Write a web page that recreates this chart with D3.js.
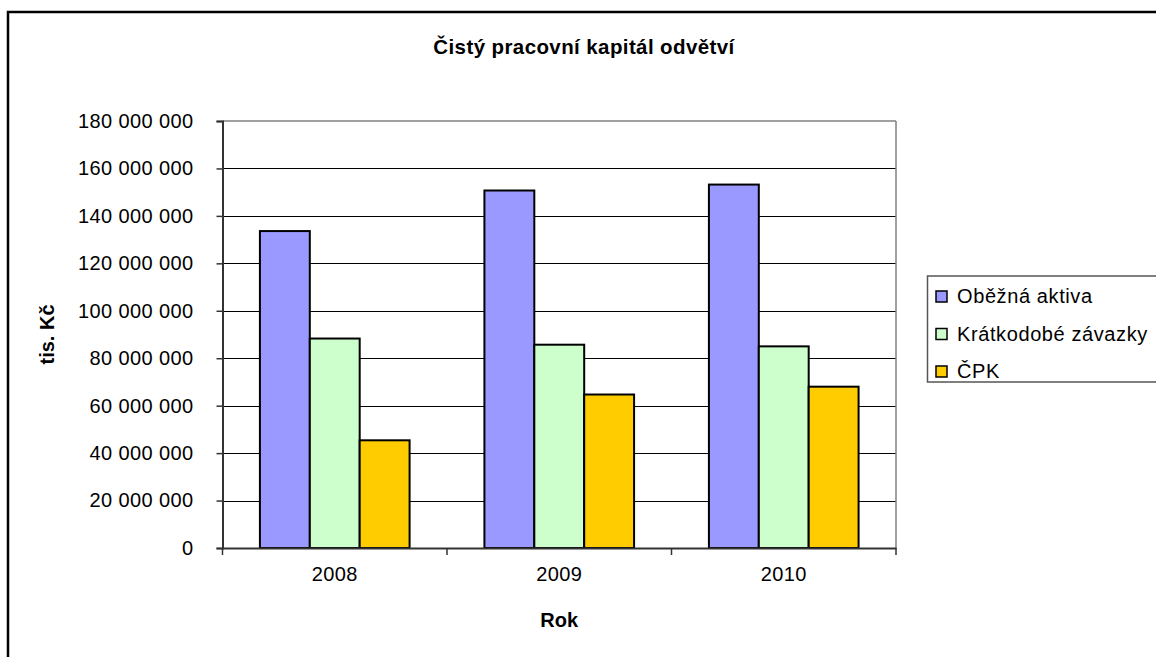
<!DOCTYPE html>
<html>
<head>
<meta charset="utf-8">
<script src="https://cdn.jsdelivr.net/npm/d3@7"></script>
<style>
  html, body { margin: 0; padding: 0; background: #fff; }
  svg { display: block; font-family: "Liberation Sans", Arial, sans-serif; }
</style>
</head>
<body>
<svg id="chart" width="1156" height="657"></svg>
<script>
const categories = ["2008", "2009", "2010"];
const seriesNames = ["Oběžná aktiva", "Krátkodobé závazky", "ČPK"];
const obeznaAktiva = [133600000, 150700000, 153200000];
const kratkodobeZavazky = [88300000, 85700000, 85000000];
const cpk = [45400000, 64700000, 68000000];
const yTicks = [0, 20000000, 40000000, 60000000, 80000000, 100000000, 120000000, 140000000, 160000000, 180000000];
const colors = ["#9999FF", "#CCFFCC", "#FFCC00"];

const seriesValues = [obeznaAktiva, kratkodobeZavazky, cpk];

const svg = d3.select("#chart");

// outer chart border
svg.append("rect").attr("x", 8).attr("y", 12).attr("width", 1170).attr("height", 670)
  .attr("fill", "#fff").attr("stroke", "#000").attr("stroke-width", 2.5);

const plot = { left: 222.5, right: 896, top: 121, bottom: 548 };

const x0 = d3.scaleBand().domain(categories).range([plot.left, plot.right]).paddingInner(0).paddingOuter(0);
const bw = x0.bandwidth() / 4.5;
const y = d3.scaleLinear().domain([0, 180000000]).range([plot.bottom, plot.top]);

// gridlines
svg.append("g").selectAll("line").data(yTicks.filter(d => d > 0 && d < 180000000)).join("line")
  .attr("x1", plot.left).attr("x2", plot.right)
  .attr("y1", d => Math.round(y(d)) + 0.5).attr("y2", d => Math.round(y(d)) + 0.5)
  .attr("stroke", "#000").attr("stroke-width", 1);

// plot border top/right (gray)
svg.append("line").attr("x1", plot.left).attr("x2", plot.right).attr("y1", plot.top).attr("y2", plot.top)
  .attr("stroke", "#808080").attr("stroke-width", 1.5);
svg.append("line").attr("x1", plot.right).attr("x2", plot.right).attr("y1", plot.top).attr("y2", plot.bottom)
  .attr("stroke", "#808080").attr("stroke-width", 1.5);

// bars
const fmt = v => d3.format(",")(v).replace(/,/g, " ");
seriesValues.forEach((vals, si) => {
  svg.append("g").selectAll("rect").data(vals).join("rect")
    .attr("x", (d, i) => x0(categories[i]) + bw * 0.75 + si * bw)
    .attr("y", d => y(d))
    .attr("width", bw)
    .attr("height", d => plot.bottom - y(d))
    .attr("fill", colors[si])
    .attr("stroke", "#000").attr("stroke-width", 2);
});

// y axis
const yAxis = d3.axisLeft(y).tickValues(yTicks).tickSize(6).tickPadding(23)
  .tickFormat(d => fmt(d));
const gy = svg.append("g").attr("transform", `translate(${plot.left},0)`).call(yAxis);
gy.select(".domain").attr("stroke", "#333").attr("stroke-width", 2);
gy.selectAll(".tick line").attr("stroke", "#333").attr("stroke-width", 1.5);
gy.selectAll(".tick text").attr("font-size", 20).attr("letter-spacing", 0.4)
  .attr("font-family", "Liberation Sans, Arial, sans-serif").attr("fill", "#000");

// x axis
const xAxis = d3.axisBottom(x0).tickSize(0).tickPadding(19);
const gx = svg.append("g").attr("transform", `translate(0,${plot.bottom})`).call(xAxis);
gx.select(".domain").attr("stroke", "#333").attr("stroke-width", 2);
gx.selectAll(".tick text").attr("font-size", 20).attr("letter-spacing", 0.4)
  .attr("font-family", "Liberation Sans, Arial, sans-serif").attr("fill", "#000");
// category boundary ticks
const bounds = categories.map(c => x0(c)).concat([plot.right]);
svg.append("g").selectAll("line").data(bounds).join("line")
  .attr("x1", d => d).attr("x2", d => d).attr("y1", plot.bottom).attr("y2", plot.bottom + 7)
  .attr("stroke", "#333").attr("stroke-width", 1.5);

// title
svg.append("text").attr("x", 584).attr("y", 54).attr("text-anchor", "middle")
  .attr("font-size", 20.5).attr("font-weight", "bold").attr("letter-spacing", 0.4)
  .text("Čistý pracovní kapitál odvětví");

// axis titles
svg.append("text").attr("x", (plot.left + plot.right) / 2).attr("y", 627).attr("text-anchor", "middle")
  .attr("font-size", 20).attr("font-weight", "bold").text("Rok");
svg.append("text").attr("transform", `translate(54,${(plot.top + plot.bottom) / 2}) rotate(-90)`)
  .attr("text-anchor", "middle").attr("font-size", 20).attr("font-weight", "bold").text("tis. Kč");

// legend
const lg = svg.append("g");
lg.append("rect").attr("x", 927.5).attr("y", 276).attr("width", 240).attr("height", 106)
  .attr("fill", "#fff").attr("stroke", "#555").attr("stroke-width", 1.5);
const legendRows = seriesNames.map((n, i) => ({ name: n, color: colors[i], i }));
const items = lg.selectAll("g.item").data(legendRows).join("g").attr("class", "item")
  .attr("transform", d => `translate(936,${296 + d.i * 37.5})`);
items.append("rect").attr("x", 0).attr("y", -5).attr("width", 11).attr("height", 11)
  .attr("fill", d => d.color).attr("stroke", "#000").attr("stroke-width", 1.5);
items.append("text").attr("x", 21).attr("y", 7).attr("font-size", 20).attr("letter-spacing", 0.6)
  .text(d => d.name);
</script>
</body>
</html>
